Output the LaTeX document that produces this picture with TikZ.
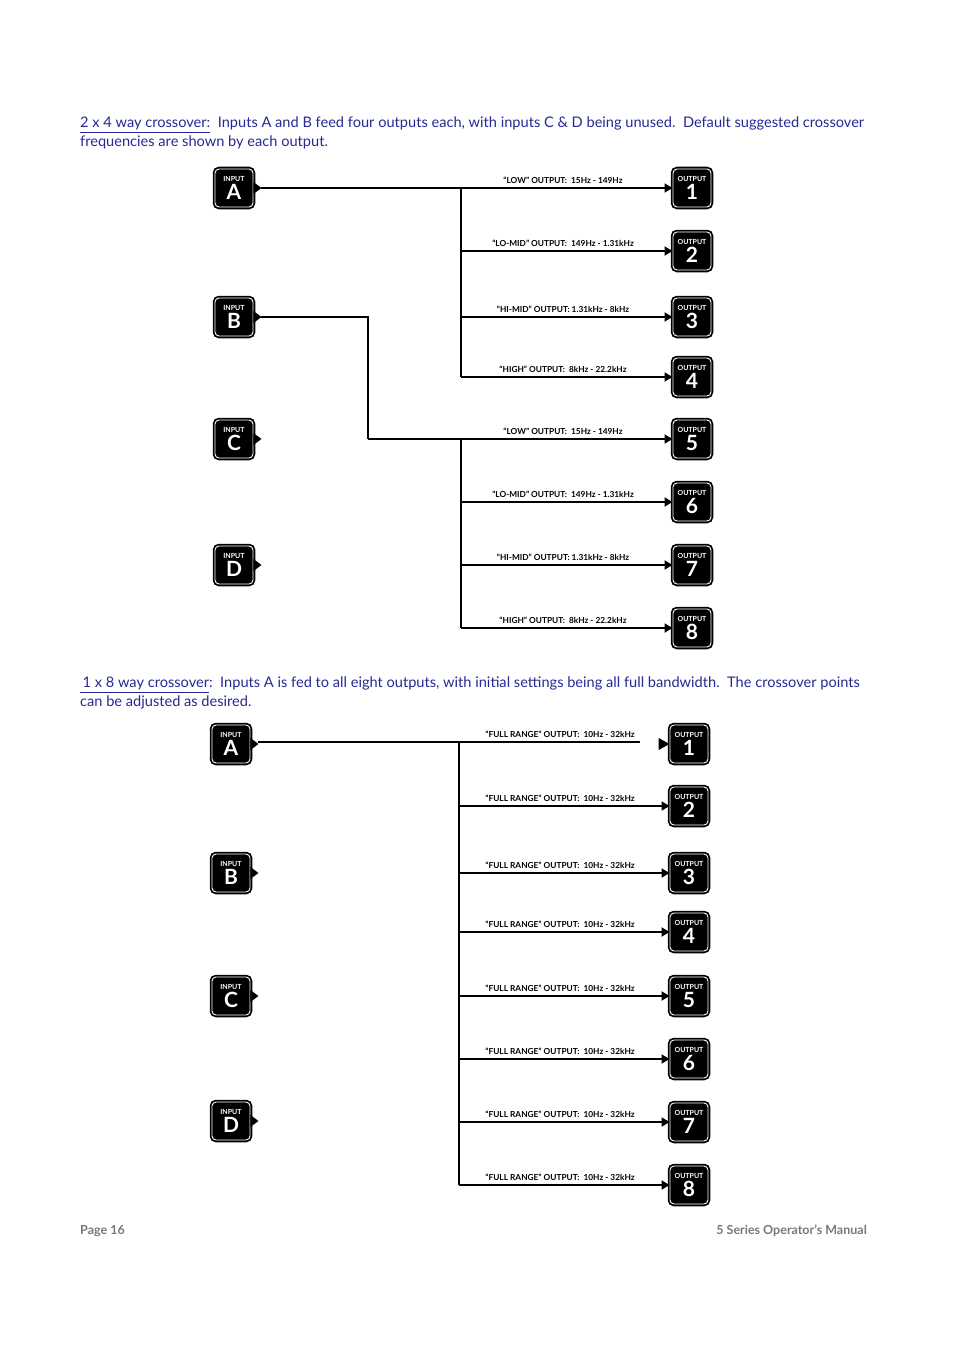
\documentclass[tikz,border=0pt]{standalone}
\usepackage{fontspec}
\usetikzlibrary{arrows.meta}
\setmainfont{Lato}
\definecolor{hblue}{RGB}{40,40,150}
\definecolor{fgray}{RGB}{120,120,120}
\begin{document}
\begin{tikzpicture}[x=1pt,y=-1pt,
 box/.style={fill=black,draw=white,line width=0.9pt,rounded corners=4pt,minimum width=38pt,minimum height=38pt,inner sep=0pt,
   preaction={draw=black,line width=4.5pt}},
 lab/.style={font=\fontsize{8.3}{9}\selectfont\bfseries,anchor=south,inner sep=1pt},
 wire/.style={line width=1.8pt},
 arr/.style={wire,-{Triangle[length=8pt,width=9pt]}},
 tri/.style={fill=black},
 head/.style={anchor=north west,align=left,text=hblue,font=\fontsize{14.6}{19}\selectfont,inner sep=0pt}]
\useasboundingbox (0,0) rectangle (954,1351);
\newcommand{\boxtxt}[2]{\begin{tabular}{@{}c@{}}\color{white}\fontsize{7}{6}\selectfont\bfseries #1\\[-1pt]\color{white}\fontsize{21}{18}\selectfont\bfseries #2\end{tabular}}
\node[head] (h1) at (80,117)
 {\underline{2 x 4 way crossover:}\ \ Inputs A and B feed four outputs each, with inputs C \& D being unused.\ \ Default suggested crossover\\frequencies are shown by each output.};
\node[head] (h2) at (80,677)
 {\underline{\,1 x 8 way crossover}:\ \ Inputs A is fed to all eight outputs, with initial settings being all full bandwidth.\ \ The crossover points\\can be adjusted as desired.};
% top
\foreach \n/\l/\y in {ia/A/188,ib/B/317,ic/C/439,id/D/565}{
 \node[box] (\n) at (234,\y) {\boxtxt{INPUT}{\l}};
 \fill[tri] ([yshift=6pt]\n.east) -- ++(8,6) -- ++(-8,6) -- cycle;}
\foreach \n/\l/\y in {o1/1/188,o2/2/251,o3/3/317,o4/4/377,o5/5/439,o6/6/502,o7/7/565,o8/8/628}{
 \node[box] (\n) at (692,\y) {\boxtxt{OUTPUT}{\l}};}
\coordinate (ta) at (461,188); \coordinate (tb) at (461,377);
\coordinate (tc) at (461,439); \coordinate (td) at (461,628);
\coordinate (bk) at (368,317); \coordinate (bk2) at (368,439);
\draw[arr] ([xshift=8pt]ia.east) -- (o1.west);
\draw[wire] (ta) -- (tb);
\foreach \o/\y in {o2/251,o3/317,o4/377}{\draw[arr] (461,\y) -- (\o.west);}
\draw[wire] ([xshift=8pt]ib.east) -- (bk) -- (bk2);
\draw[arr] (bk2) -- (o5.west);
\draw[wire] (tc) -- (td);
\foreach \o/\y in {o6/502,o7/565,o8/628}{\draw[arr] (461,\y) -- (\o.west);}
\foreach \y/\t in {188/{``LOW'' OUTPUT:\ \ 15Hz - 149Hz},251/{``LO-MID'' OUTPUT:\ \ 149Hz - 1.31kHz},317/{``HI-MID'' OUTPUT:\ 1.31kHz - 8kHz},377/{``HIGH'' OUTPUT:\ \ 8kHz - 22.2kHz},439/{``LOW'' OUTPUT:\ \ 15Hz - 149Hz},502/{``LO-MID'' OUTPUT:\ \ 149Hz - 1.31kHz},565/{``HI-MID'' OUTPUT:\ 1.31kHz - 8kHz},628/{``HIGH'' OUTPUT:\ \ 8kHz - 22.2kHz}}
 {\node[lab] at (563,\y-3) {\t};}
% bottom
\foreach \n/\l/\y in {ja/A/744,jb/B/873,jc/C/996,jd/D/1121}{
 \node[box] (\n) at (231,\y) {\boxtxt{INPUT}{\l}};
 \fill[tri] ([yshift=6pt]\n.east) -- ++(8,6) -- ++(-8,6) -- cycle;}
\foreach \n/\l/\y in {p1/1/744,p2/2/806,p3/3/873,p4/4/932,p5/5/996,p6/6/1059,p7/7/1122,p8/8/1185}{
 \node[box] (\n) at (689,\y) {\boxtxt{OUTPUT}{\l}};}
\coordinate (ba) at (459,742); \coordinate (bz) at (459,1185);
\coordinate (aend) at (640,742);
\draw[wire] ([xshift=8pt,yshift=2pt]ja.east) -- (aend);
\fill[tri] (p1.west) -- ++(-11,-6) -- ++(0,12) -- cycle;
\draw[wire] (ba) -- (bz);
\foreach \o/\y in {p2/806,p3/873,p4/932,p5/996,p6/1059,p7/1122,p8/1185}{\draw[arr] (459,\y) -- (\o.west);}
\foreach \y in {742,806,873,932,996,1059,1122,1185}{\node[lab] at (560,\y-3) {``FULL RANGE'' OUTPUT:\ \ 10Hz - 32kHz};}
% footer
\node[anchor=west,text=fgray,font=\fontsize{12.5}{14}\selectfont\bfseries,inner sep=0pt] (pg) at (80,1231) {Page 16};
\node[anchor=east,text=fgray,font=\fontsize{12.5}{14}\selectfont\bfseries,inner sep=0pt] (mn) at (867,1231) {5 Series Operator’s Manual};
\end{tikzpicture}
\end{document}
